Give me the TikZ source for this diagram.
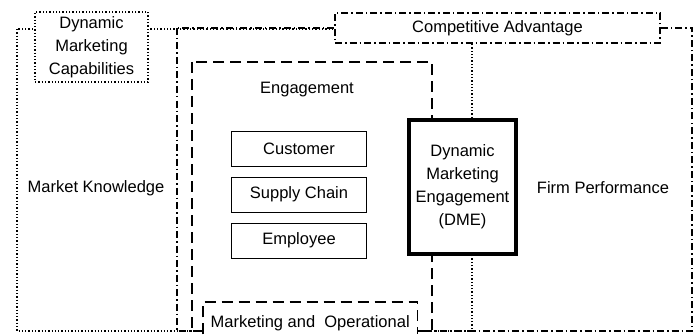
\documentclass[tikz,border=0pt]{standalone}
\usepackage{fontspec}
\setmainfont{Liberation Sans}
\usetikzlibrary{positioning}
\tikzstyle{txt} = [font=\fontsize{16.5}{23}\selectfont,
align=center,
inner sep=0pt]
\tikzstyle{capframe} = [draw=black,
line width=1.3pt,
dotted]
\tikzstyle{advframe} = [draw=black,
line width=1.3pt,
dash pattern=on 7pt off 3pt on 1.5pt off 3pt]
\tikzstyle{engframe} = [draw=black,
line width=1.6pt,
dash pattern=on 11pt off 6pt]
\tikzstyle{dimbox} = [rectangle,
minimum width=135pt,
minimum height=35pt,
draw=black,
line width=1pt,
fill=white,
txt]
\tikzstyle{dmebox} = [rectangle,
minimum width=107pt,
minimum height=134pt,
draw=black,
line width=4pt,
fill=white,
txt]

\begin{document}
\begin{tikzpicture}[x=1pt, y=-1pt, node distance=10pt]
	\useasboundingbox (0,0) rectangle (700,334);

	% frames
	\draw [capframe] (17,29) rectangle (472,331);
	\draw [advframe] (177,28) rectangle (692,331);
	\draw [engframe] (192,62) rectangle (432,331);

	% boxes on top of the frames
	\node (dmc) [capframe, fill=white, txt, minimum width=113pt, minimum height=70pt] at (91.5,47) {Dynamic\\Marketing\\Capabilities};
	\node (adv) [advframe, fill=white, txt, minimum width=325pt, minimum height=30pt] at (497.5,28) {Competitive Advantage};
	\node (dme) [dmebox] at (462.5,187) {Dynamic\\Marketing\\Engagement\\(DME)};
	\node (ops) [txt, fill=white, minimum width=214pt, minimum height=32pt, text height=23pt, anchor=north west] at (203,302) {Marketing and\ \ Operational};
	\draw [engframe] (ops.south west) |- (ops.north east) -- (ops.south east);

	\node (eng) [txt] at (307,90) {Engagement};
	\node (cust) [dimbox] at (299,148.5) {Customer};
	\node (supply) [dimbox, below=of cust] {Supply Chain};
	\node (empl) [dimbox, below=of supply] {Employee};

	\node (know) [txt] at (96,188) {Market Knowledge};
	\node (perf) [txt] at (603,188) {Firm Performance};

\end{tikzpicture}
\end{document}
